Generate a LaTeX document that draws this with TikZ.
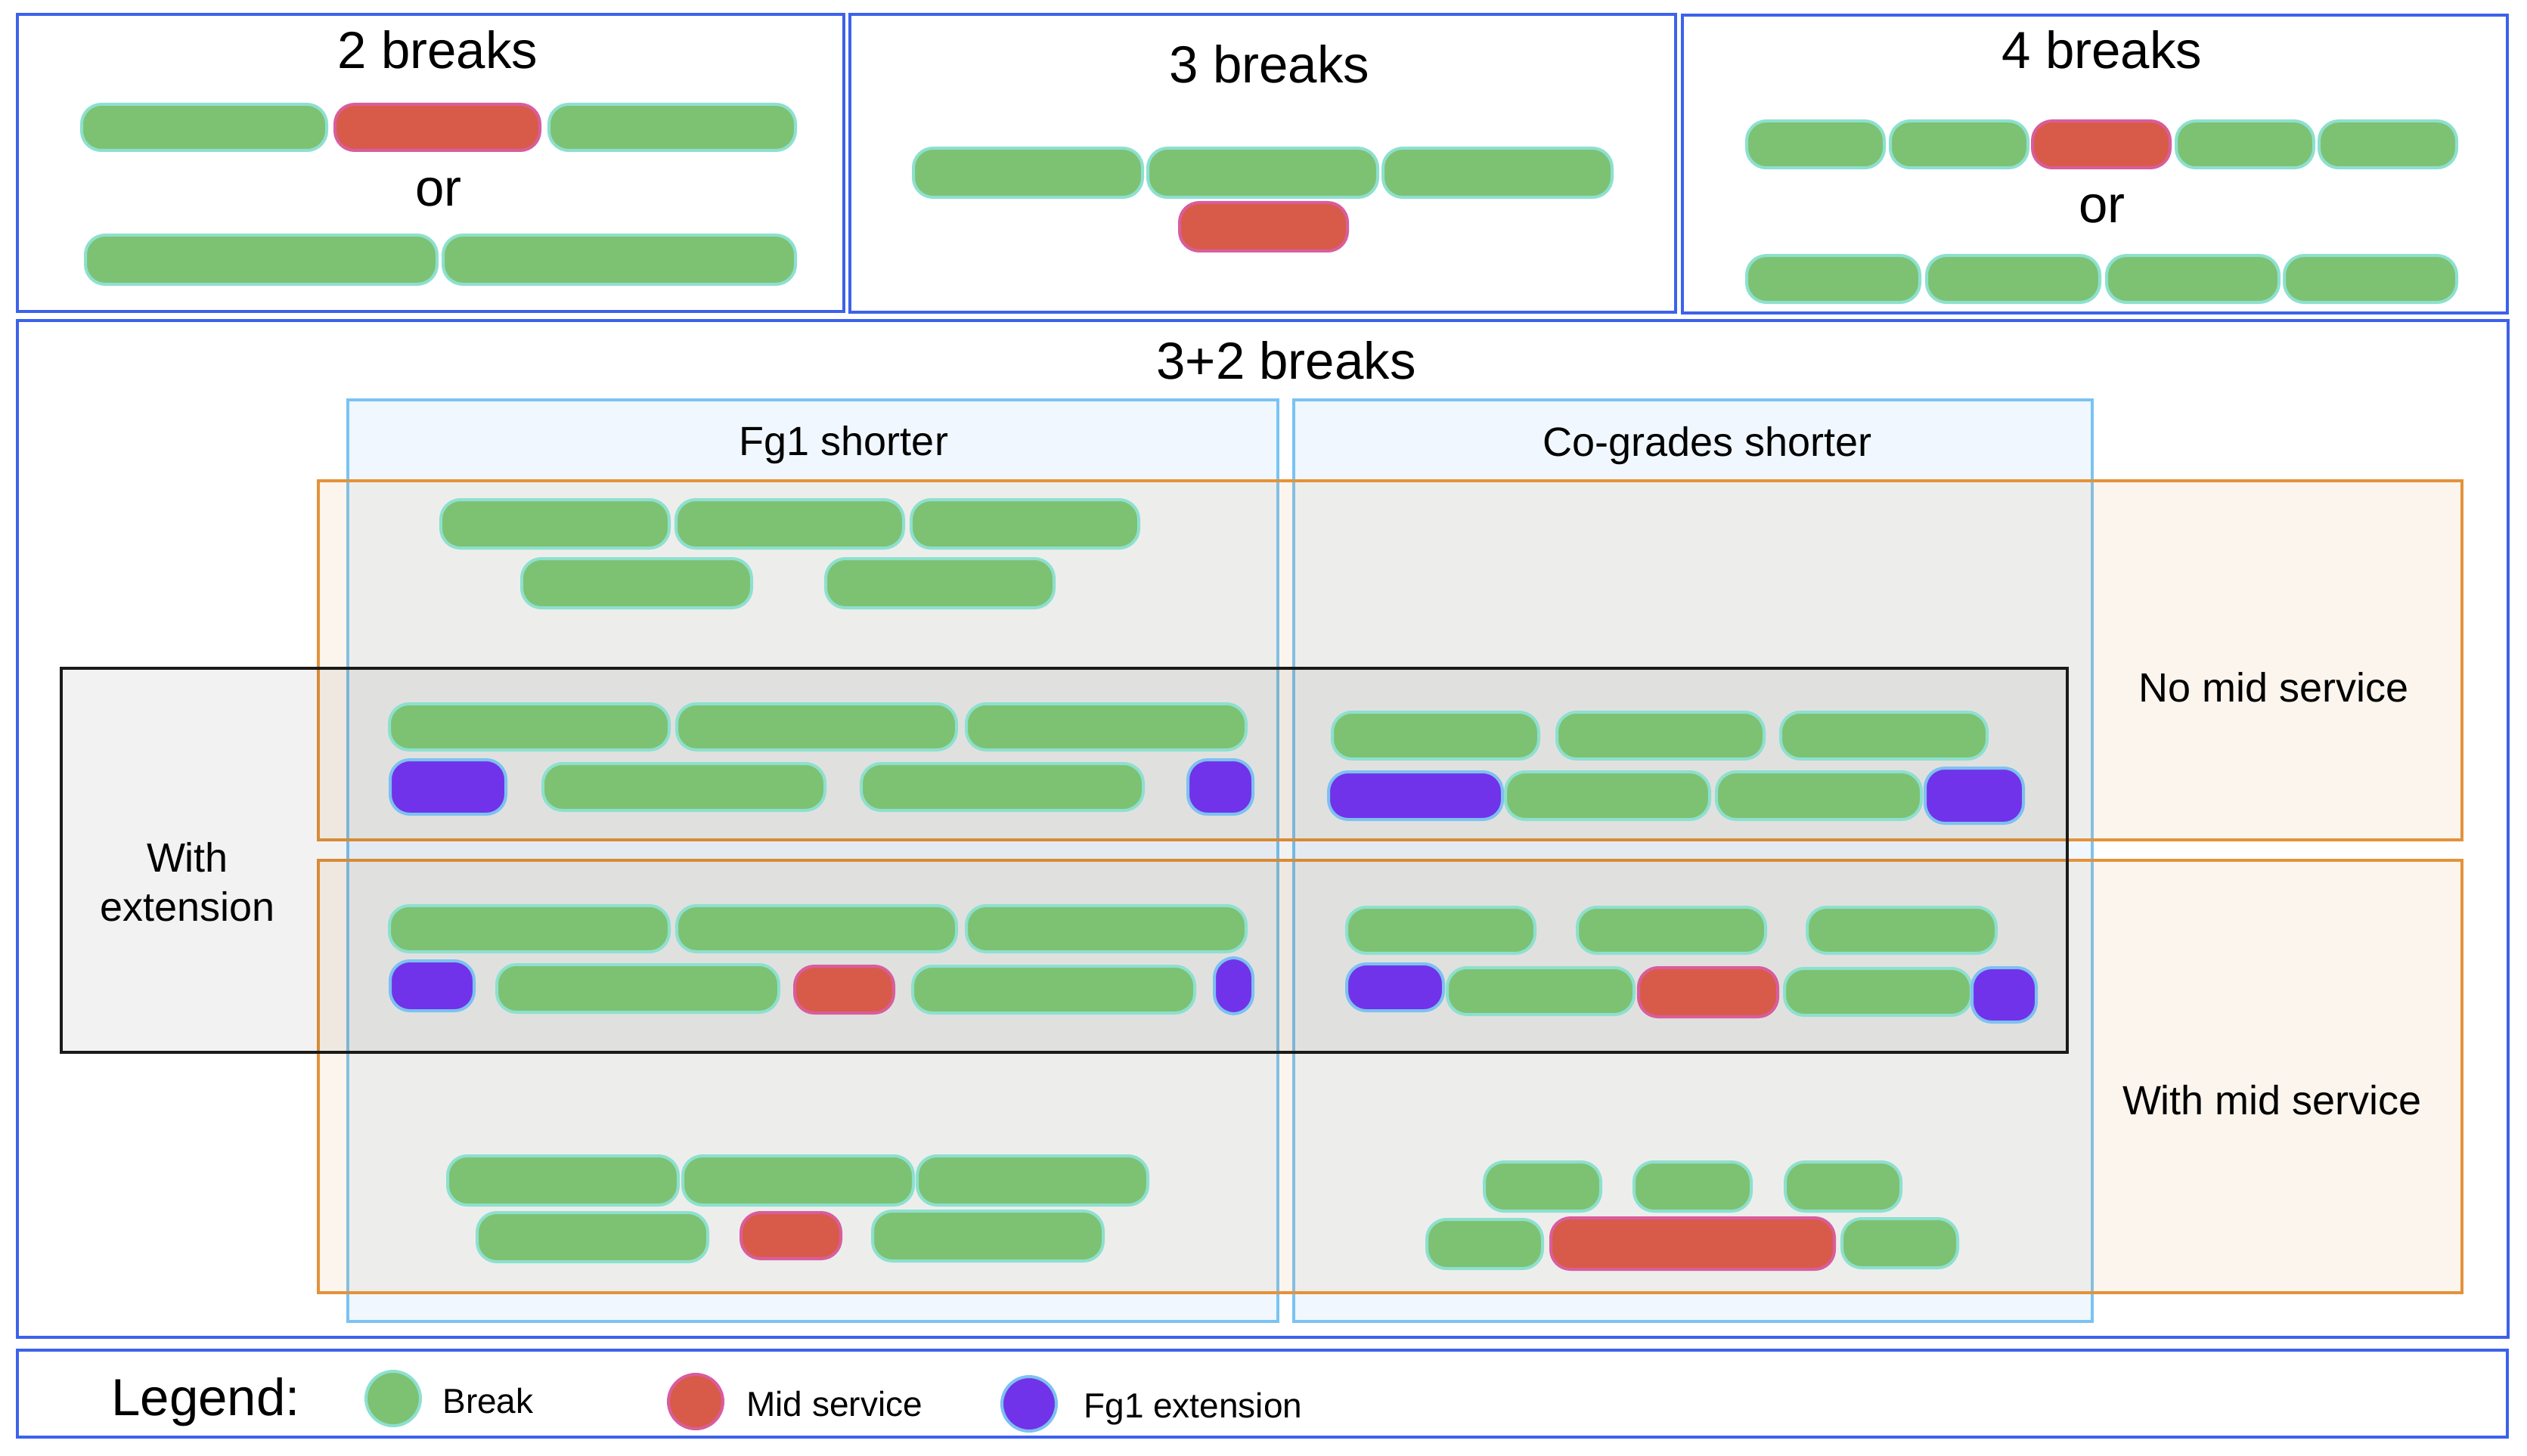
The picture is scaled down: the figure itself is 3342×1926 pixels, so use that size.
\documentclass[tikz,border=0pt]{standalone}
\usepackage{fontspec}
\setmainfont{Liberation Sans}
\definecolor{brkfill}{HTML}{7DC272}
\definecolor{brkline}{HTML}{8DE0CF}
\definecolor{midfill}{HTML}{D85B49}
\definecolor{midline}{HTML}{D95D9C}
\definecolor{extfill}{HTML}{7033EA}
\definecolor{extline}{HTML}{7DC1F1}
\definecolor{boxblue}{HTML}{3C62EB}
\definecolor{colline}{HTML}{7BC3F2}
\definecolor{colfill}{HTML}{F0F7FE}
\definecolor{orangeline}{HTML}{E3923A}
\definecolor{orangetint}{HTML}{D9A050}
\definecolor{blackline}{HTML}{1A1A18}
\newcommand{\pill}[5]{\draw[#1] ({#2+2},{#3+2}) rectangle ({#4-2},{#5-2});}
\begin{document}
\begin{tikzpicture}[x=0.5pt,y=-0.5pt,
  pillbase/.style={line width=2pt, rounded corners=13pt},
  brk/.style={pillbase, fill=brkfill, draw=brkline},
  mid/.style={pillbase, fill=midfill, draw=midline},
  ext/.style={pillbase, fill=extfill, draw=extline},
  outerbox/.style={draw=boxblue, line width=1.75pt},
  colbox/.style={draw=colline, fill=colfill, line width=1.6pt},
  rowbox/.style={draw=orangeline, line width=1.75pt},
  rowfill/.style={fill=orangetint, fill opacity=0.1},
  extbox/.style={draw=blackline, line width=2.1pt},
  extfillstyle/.style={fill=black, fill opacity=0.05},
  title/.style={font=\fontsize{34.5}{41}\selectfont, inner sep=0pt, anchor=base},
  label/.style={font=\fontsize{27}{32}\selectfont, inner sep=0pt, anchor=base},
  leglabel/.style={font=\fontsize{23}{28}\selectfont, inner sep=0pt, anchor=base west}
]
\useasboundingbox (0,0) rectangle (3342,1926);
\fill[white] (0,0) rectangle (3342,1926);

% top boxes
\draw[outerbox] (23,19) rectangle (1116,412);
\draw[outerbox] (1124,19) rectangle (2216,413);
\draw[outerbox] (2225,20) rectangle (3316,414);
\draw[outerbox] (23,424) rectangle (3317,1769);
\draw[outerbox] (23,1786) rectangle (3316,1901);

% columns, rows, extension box
\draw[colbox] (460,529) rectangle (1690,1748);
\draw[colbox] (1711,529) rectangle (2767,1748);
\fill[rowfill] (421,636) rectangle (3256,1111);
\fill[rowfill] (421,1138) rectangle (3256,1710);
\draw[rowbox] (421,636) rectangle (3256,1111);
\draw[rowbox] (421,1138) rectangle (3256,1710);
\fill[extfillstyle] (81,884) rectangle (2734,1392);
\draw[extbox] (81,884) rectangle (2734,1392);

% 2 breaks
\pill{brk}{106}{136}{434}{201}
\pill{mid}{441}{136}{716}{201}
\pill{brk}{724}{136}{1054}{201}
\pill{brk}{111}{309}{580}{378}
\pill{brk}{584}{309}{1054}{378}

% 3 breaks
\pill{brk}{1206}{194}{1513}{263}
\pill{brk}{1516}{194}{1824}{263}
\pill{brk}{1827}{194}{2134}{263}
\pill{mid}{1558}{266}{1784}{334}

% 4 breaks
\pill{brk}{2308}{158}{2494}{224}
\pill{brk}{2498}{158}{2684}{224}
\pill{mid}{2686}{158}{2872}{224}
\pill{brk}{2876}{158}{3062}{224}
\pill{brk}{3065}{158}{3251}{224}
\pill{brk}{2308}{336}{2541}{402}
\pill{brk}{2546}{336}{2779}{402}
\pill{brk}{2784}{336}{3016}{402}
\pill{brk}{3019}{336}{3251}{402}

% Fg1 shorter, no mid service
\pill{brk}{581}{659}{887}{727}
\pill{brk}{892}{659}{1197}{727}
\pill{brk}{1203}{659}{1508}{727}
\pill{brk}{688}{737}{996}{806}
\pill{brk}{1090}{737}{1396}{806}

% Fg1 shorter, no mid service, with extension
\pill{brk}{513}{929}{887}{994}
\pill{brk}{893}{929}{1267}{994}
\pill{brk}{1276}{929}{1650}{994}
\pill{ext}{514}{1003}{671}{1079}
\pill{brk}{716}{1008}{1093}{1074}
\pill{brk}{1137}{1008}{1514}{1074}
\pill{ext}{1569}{1003}{1659}{1079}

% Fg1 shorter, with mid service, with extension
\pill{brk}{513}{1196}{887}{1261}
\pill{brk}{893}{1196}{1267}{1261}
\pill{brk}{1276}{1196}{1650}{1261}
\pill{ext}{514}{1269}{629}{1339}
\pill{brk}{655}{1274}{1032}{1341}
\pill{mid}{1049}{1276}{1184}{1342}
\pill{brk}{1205}{1276}{1582}{1342}
\pill{ext}{1604}{1265}{1659}{1343}

% Co-grades shorter, no mid service, with extension
\pill{brk}{1760}{940}{2037}{1006}
\pill{brk}{2057}{940}{2335}{1006}
\pill{brk}{2353}{940}{2630}{1006}
\pill{ext}{1755}{1019}{1989}{1086}
\pill{brk}{1989}{1019}{2263}{1086}
\pill{brk}{2268}{1019}{2543}{1086}
\pill{ext}{2544}{1014}{2678}{1091}

% Co-grades shorter, with mid service, with extension
\pill{brk}{1779}{1198}{2032}{1263}
\pill{brk}{2084}{1198}{2337}{1263}
\pill{brk}{2388}{1198}{2642}{1263}
\pill{ext}{1779}{1273}{1911}{1339}
\pill{brk}{1912}{1278}{2163}{1344}
\pill{mid}{2165}{1278}{2353}{1347}
\pill{brk}{2358}{1279}{2609}{1345}
\pill{ext}{2606}{1278}{2695}{1354}

% Fg1 shorter, with mid service
\pill{brk}{590}{1527}{899}{1596}
\pill{brk}{901}{1527}{1210}{1596}
\pill{brk}{1211}{1527}{1520}{1596}
\pill{brk}{629}{1602}{938}{1671}
\pill{mid}{978}{1602}{1114}{1667}
\pill{brk}{1152}{1600}{1461}{1670}

% Co-grades shorter, with mid service
\pill{brk}{1961}{1535}{2119}{1604}
\pill{brk}{2159}{1535}{2318}{1604}
\pill{brk}{2359}{1535}{2516}{1604}
\pill{brk}{1885}{1611}{2042}{1680}
\pill{mid}{2049}{1609}{2428}{1681}
\pill{brk}{2434}{1610}{2591}{1679}

% legend symbols
\draw[brk] (520,1850) circle (36);
\draw[mid] (920,1854) circle (36);
\draw[ext] (1361,1857) circle (36);

% texts
\node[title] (t2) at (579,91) {2 breaks};
\node[title] (or2) at (580,273) {or};
\node[title] (t3) at (1679,110) {3 breaks};
\node[title] (t4) at (2780,91) {4 breaks};
\node[title] (or4) at (2780,295) {or};
\node[title] (t32) at (1701,501) {3+2 breaks};
\node[label] (hfg) at (1116,602) {Fg1 shorter};
\node[label] (hco) at (2258,603) {Co-grades shorter};
\node[label] (rno) at (3007,928) {No mid service};
\node[label] (rwith) at (3005,1474) {With mid service};
\node[label] (ext1) at (248,1153) {With};
\node[label] (ext2) at (248,1218) {extension};
\node[title, anchor=base west] (leg) at (147,1872) {Legend:};
\node[leglabel] (lb) at (585,1869) {Break};
\node[leglabel] (lm) at (987,1873) {Mid service};
\node[leglabel] (le) at (1433,1875) {Fg1 extension};
\end{tikzpicture}
\end{document}
